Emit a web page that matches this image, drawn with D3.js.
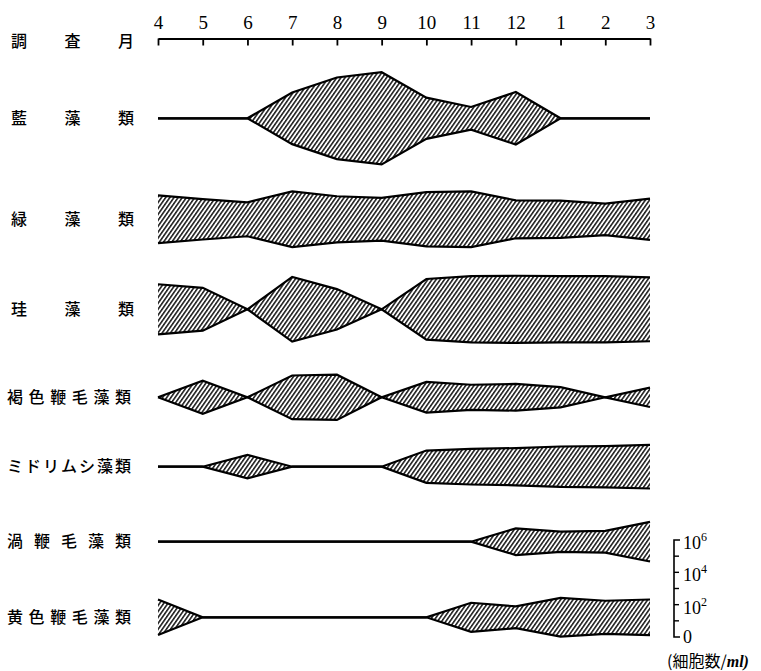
<!DOCTYPE html>
<html>
<head>
<meta charset="utf-8">
<script src="https://cdn.jsdelivr.net/npm/d3@7"></script>
<style>
  html, body { margin: 0; padding: 0; background: #fff; }
  svg { display: block; }
</style>
</head>
<body>
<svg id="chart" width="761" height="671"></svg>
<script>
// Survey months (April to March)
const months = ["4", "5", "6", "7", "8", "9", "10", "11", "12", "1", "2", "3"];

// Algal groups, top to bottom
const groups = ["藍藻類", "緑藻類", "珪藻類", "褐色鞭毛藻類", "ミドリムシ藻類", "渦鞭毛藻類", "黄色鞭毛藻類"];

// Cell density per group and month, as log10(cells/ml); 0 means none found
const blueGreenAlgae   = [0, 0, 0, 3.2, 5.05, 5.7, 2.55, 1.4, 3.25, 0, 0, 0];
const greenAlgae       = [2.95, 2.5, 2.1, 3.45, 2.85, 2.65, 3.35, 3.45, 2.35, 2.3, 1.95, 2.55];
const diatoms          = [3.1, 2.65, 0, 4.0, 2.5, 0, 3.75, 4.1, 4.15, 4.1, 4.1, 3.95];
const brownFlagellates = [0, 2.05, 0, 2.7, 2.8, 0, 1.9, 1.55, 1.65, 1.25, 0, 1.2];
const euglenoids       = [0, 0, 1.45, 0, 0, 0, 2.0, 2.2, 2.3, 2.5, 2.55, 2.7];
const dinoflagellates  = [0, 0, 0, 0, 0, 0, 0, 0, 1.65, 1.25, 1.35, 2.45];
const yellowFlagellates = [2.2, 0, 0, 0, 0, 0, 0, 1.8, 1.35, 2.4, 2.05, 2.2];

const series = [blueGreenAlgae, greenAlgae, diatoms, brownFlagellates, euglenoids, dinoflagellates, yellowFlagellates];

// Density key: decades and labelled decades
const keyTicks = [0, 1, 2, 3, 4, 5, 6];
const keyLabels = [
  { v: 0, base: "0", exp: "" },
  { v: 2, base: "10", exp: "2" },
  { v: 4, base: "10", exp: "4" },
  { v: 6, base: "10", exp: "6" }
];
const unitPrefix = "(細胞数/";
const unitSuffix = "ml)";
const axisTitle = "調査月";

// ---- layout ----
const svg = d3.select("#chart");
const rowCenters = [118.3, 219.3, 309.3, 397.3, 466.7, 541.7, 617.3];
const labelFont = "'Noto Sans CJK JP', 'Noto Sans CJK SC', sans-serif";
const serifFont = "'Liberation Serif', 'DejaVu Serif', serif";

const x = d3.scalePoint().domain(months).range([158, 650]);
// key scale: vertical position of each decade
const keyY = d3.scaleLinear().domain([0, 6]).range([637, 540]);
// total band thickness for a given log10 density (same px per decade as the key)
const thick = d3.scaleLinear().domain([0, 6]).range([0, 637 - 540]);

// hatch pattern
const defs = svg.append("defs");
const pat = defs.append("pattern")
  .attr("id", "hatch")
  .attr("patternUnits", "userSpaceOnUse")
  .attr("width", 3.4)
  .attr("height", 10)
  .attr("patternTransform", "rotate(35)");
pat.append("line")
  .attr("x1", 0.8).attr("y1", -1).attr("x2", 0.8).attr("y2", 11)
  .attr("stroke", "#000").attr("stroke-width", 1.4);

// top month axis
const axis = d3.axisTop(x).tickSizeInner(-7).tickSizeOuter(0).tickPadding(10);
const gAxis = svg.append("g").attr("transform", "translate(0,38.5)").call(axis);
gAxis.select(".domain").attr("stroke", "#000").attr("stroke-width", 2.2);
gAxis.selectAll(".tick line").attr("stroke", "#000").attr("stroke-width", 1.8);
gAxis.selectAll(".tick text")
  .attr("font-family", serifFont)
  .attr("font-size", 19)
  .attr("fill", "#000");

// spread a label's characters evenly between left and right edges
function spreadLabel(str, y, left, right, size) {
  const chars = Array.from(str);
  const n = chars.length;
  const step = n > 1 ? (right - left - size) / (n - 1) : 0;
  const xs = chars.map((c, i) => (left + i * step).toFixed(1)).join(" ");
  svg.append("text")
    .attr("x", xs)
    .attr("y", y)
    .attr("dy", "0.36em")
    .attr("font-family", labelFont)
    .attr("font-size", size)
    .attr("font-weight", 500)
    .attr("fill", "#000")
    .text(str);
}

spreadLabel(axisTitle, 41, 11, 134, 16);
groups.forEach((g, i) => {
  const n = Array.from(g).length;
  const left = n === 3 ? 11 : 7;
  spreadLabel(g, rowCenters[i], left, n === 3 ? 134 : 131, 16);
});

// density bands
series.forEach((vals, i) => {
  const cy = rowCenters[i];
  const pts = months.map((m, j) => ({ m, v: vals[j] }));
  const area = d3.area()
    .x(d => x(d.m))
    .y0(d => cy + thick(d.v) / 2)
    .y1(d => cy - thick(d.v) / 2);
  const top = d3.line().x(d => x(d.m)).y(d => cy - thick(d.v) / 2);
  const bottom = d3.line().x(d => x(d.m)).y(d => cy + thick(d.v) / 2);
  const g = svg.append("g");
  g.append("path").attr("d", area(pts)).attr("fill", "url(#hatch)").attr("stroke", "none");
  [top, bottom].forEach(l => {
    g.append("path")
      .attr("d", l(pts))
      .attr("fill", "none")
      .attr("stroke", "#000")
      .attr("stroke-width", 2.2)
      .attr("stroke-linejoin", "miter");
  });
});

// density key
const key = svg.append("g");
key.append("path")
  .attr("d", `M680,${keyY(6)}H674V${keyY(0)}H680`)
  .attr("fill", "none").attr("stroke", "#000").attr("stroke-width", 1.6);
key.selectAll("line.tk").data(keyTicks.slice(1, -1)).join("line")
  .attr("class", "tk")
  .attr("x1", 674).attr("x2", 679)
  .attr("y1", d => keyY(d)).attr("y2", d => keyY(d))
  .attr("stroke", "#000").attr("stroke-width", 1.4);
const kl = key.selectAll("text.kl").data(keyLabels).join("text")
  .attr("class", "kl")
  .attr("x", 683)
  .attr("y", d => keyY(d.v) + (d.v === 0 ? 6 : 9))
  .attr("font-family", serifFont)
  .attr("font-size", 18)
  .attr("fill", "#000");
kl.append("tspan").text(d => d.base);
kl.append("tspan").attr("dy", -8).attr("font-size", 12).text(d => d.exp);

const unit = svg.append("text")
  .attr("x", 667).attr("y", 667)
  .attr("font-size", 16)
  .attr("fill", "#000");
unit.append("tspan").attr("font-family", labelFont).text(unitPrefix);
unit.append("tspan").attr("font-family", serifFont).attr("font-weight", "bold")
  .attr("font-style", "italic").text(unitSuffix);
</script>
</body>
</html>
